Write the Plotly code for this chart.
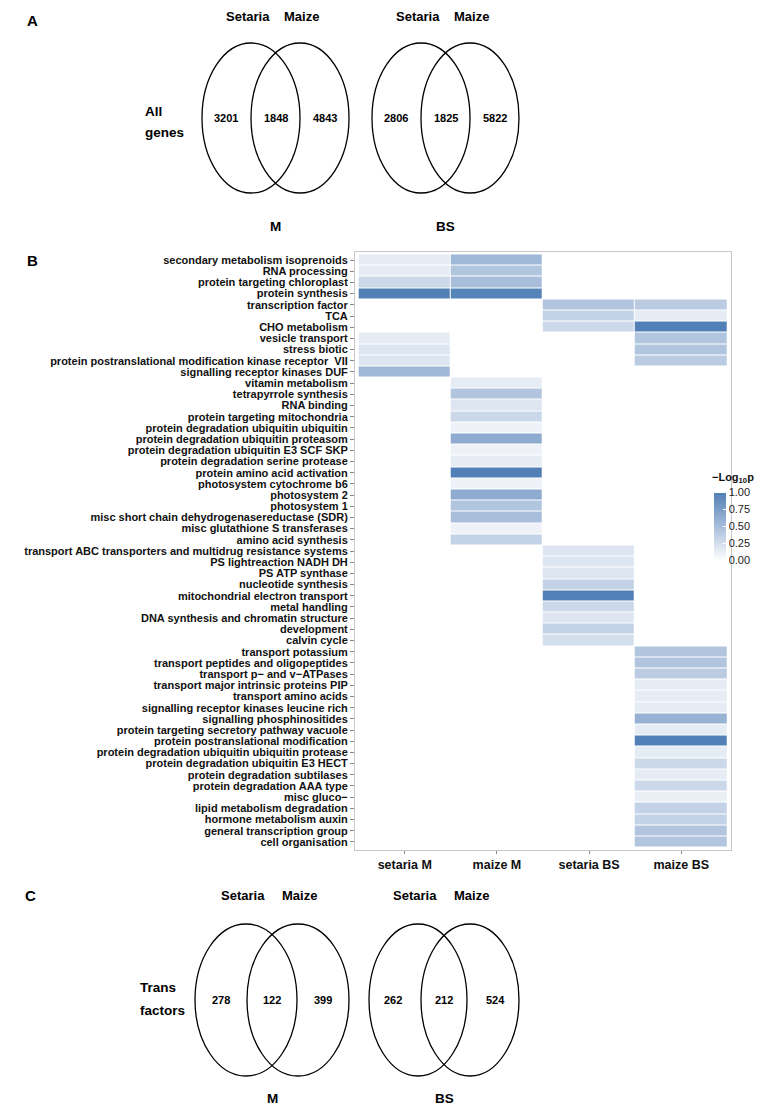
import plotly.graph_objects as go

W, H = 780, 1106
N = None

# ---------------- data ----------------
columns = ["setaria M", "maize M", "setaria BS", "maize BS"]

categories = [
    "secondary metabolism isoprenoids",
    "RNA processing",
    "protein targeting chloroplast",
    "protein synthesis",
    "transcription factor",
    "TCA",
    "CHO metabolism",
    "vesicle transport",
    "stress biotic",
    "protein postranslational modification kinase receptor\u00a0\u00a0VII",
    "signalling receptor kinases DUF",
    "vitamin metabolism",
    "tetrapyrrole synthesis",
    "RNA binding",
    "protein targeting mitochondria",
    "protein degradation ubiquitin ubiquitin",
    "protein degradation ubiquitin proteasom",
    "protein degradation ubiquitin E3 SCF SKP",
    "protein degradation serine protease",
    "protein amino acid activation",
    "photosystem cytochrome b6",
    "photosystem 2",
    "photosystem 1",
    "misc short chain dehydrogenasereductase (SDR)",
    "misc glutathione S transferases",
    "amino acid synthesis",
    "transport ABC transporters and multidrug resistance systems",
    "PS lightreaction NADH DH",
    "PS ATP synthase",
    "nucleotide synthesis",
    "mitochondrial electron transport",
    "metal handling",
    "DNA synthesis and chromatin structure",
    "development",
    "calvin cycle",
    "transport potassium",
    "transport peptides and oligopeptides",
    "transport p\u2212 and v\u2212ATPases",
    "transport major intrinsic proteins PIP",
    "transport amino acids",
    "signalling receptor kinases leucine rich",
    "signalling phosphinositides",
    "protein targeting secretory pathway vacuole",
    "protein postranslational modification",
    "protein degradation ubiquitin ubiquitin protease",
    "protein degradation ubiquitin E3 HECT",
    "protein degradation subtilases",
    "protein degradation AAA type",
    "misc gluco\u2212",
    "lipid metabolism degradation",
    "hormone metabolism auxin",
    "general transcription group",
    "cell organisation",
]

setaria_M = [0.15, 0.15, 0.30, 1.00, N, N, N, 0.15, 0.20, 0.20, 0.55,
             N, N, N, N, N, N, N, N, N, N, N, N, N, N, N,
             N, N, N, N, N, N, N, N, N,
             N, N, N, N, N, N, N, N, N, N, N, N, N, N, N, N, N, N]
maize_M = [0.55, 0.45, 0.50, 0.97, N, N, N, N, N, N, N,
           0.15, 0.45, 0.20, 0.30, 0.10, 0.65, 0.10, 0.15, 1.00, 0.10, 0.65, 0.45, 0.50, 0.10, 0.35,
           N, N, N, N, N, N, N, N, N,
           N, N, N, N, N, N, N, N, N, N, N, N, N, N, N, N, N, N]
setaria_BS = [N, N, N, N, 0.45, 0.35, 0.30, N, N, N, N,
              N, N, N, N, N, N, N, N, N, N, N, N, N, N, N,
              0.20, 0.20, 0.20, 0.35, 1.00, 0.30, 0.20, 0.35, 0.25,
              N, N, N, N, N, N, N, N, N, N, N, N, N, N, N, N, N, N]
maize_BS = [N, N, N, N, 0.40, 0.15, 1.00, 0.45, 0.45, 0.40, N,
            N, N, N, N, N, N, N, N, N, N, N, N, N, N, N,
            N, N, N, N, N, N, N, N, N,
            0.45, 0.45, 0.40, 0.15, 0.15, 0.15, 0.60, 0.15, 1.00, 0.15, 0.30, 0.15, 0.30, 0.12,
            0.35, 0.35, 0.45, 0.45]

colorbar_ticks = [0.00, 0.25, 0.50, 0.75, 1.00]
colorbar_title = "\u2212Log<sub>10</sub>p"

venn_sets = ["Setaria", "Maize"]
venn_groups = ["M", "BS"]
all_genes_M = [3201, 1848, 4843]
all_genes_BS = [2806, 1825, 5822]
trans_factors_M = [278, 122, 399]
trans_factors_BS = [262, 212, 524]

FONT = "Liberation Sans Narrow, Arial Narrow, Liberation Sans, Arial, sans-serif"

# ---------------- heatmap ----------------
z = [[setaria_M[i], maize_M[i], setaria_BS[i], maize_BS[i]] for i in range(len(categories))]

fig = go.Figure()
fig.add_trace(go.Heatmap(
    z=z,
    x=columns,
    y=categories,
    zmin=0, zmax=1,
    xgap=1, ygap=1,
    colorscale=[[0, "#ffffff"], [0.5, "#a9bedb"], [1, "#5280b6"]],
    hoverongaps=False,
    colorbar=dict(
        x=706 / W, xanchor="left",
        y=1 - 518.5 / H, yanchor="middle",
        lenmode="pixels", len=68,
        thickness=12,
        outlinewidth=0,
        tickvals=colorbar_ticks,
        ticktext=["%.2f" % t for t in colorbar_ticks],
        ticks="inside", tickcolor="white", ticklen=3,
        tickfont=dict(size=11, family="Liberation Sans, Arial", color="#222"),
        xpad=0, ypad=0,
    ),
))

fig.update_xaxes(
    domain=[347 / W, 723 / W],
    range=[-0.54, 3.54],
    showline=True, mirror=True, linecolor="#c8c8c8", linewidth=1,
    ticks="outside", ticklen=3, tickcolor="#888",
    tickfont=dict(size=12.5, family=FONT, color="#111"),
    showgrid=False, zeroline=False, fixedrange=True,
    tickmode="array", tickvals=columns,
    ticktext=["<b>%s</b>" % c for c in columns],
)
fig.update_yaxes(
    domain=[1 - 842 / H, 1 - 244 / H],
    range=[len(categories) - 1 + 0.72, -0.72],
    showline=True, mirror=True, linecolor="#c8c8c8", linewidth=1,
    ticks="outside", ticklen=4, tickcolor="#888",
    tickfont=dict(size=11, family=FONT, color="#111"),
    showgrid=False, zeroline=False, fixedrange=True,
    tickmode="array", tickvals=categories,
    ticktext=["<b>%s</b>" % c for c in categories],
)

# ---------------- venn diagrams (paper coords, pixel helpers) ----------------
def px(x):
    return x / W

def py(y):
    return 1 - y / H

shapes = []
annotations = []

def ellipse(cx, cy, rx, ry):
    shapes.append(dict(type="circle", xref="paper", yref="paper",
                       x0=px(cx - rx), x1=px(cx + rx), y0=py(cy + ry), y1=py(cy - ry),
                       line=dict(color="black", width=1.3), fillcolor="rgba(0,0,0,0)"))

def text(x, y, s, size, xanchor="center"):
    annotations.append(dict(x=px(x), y=py(y), xref="paper", yref="paper", text="<b>%s</b>" % s,
                            showarrow=False, xanchor=xanchor, yanchor="middle",
                            font=dict(size=size, family=FONT, color="black")))

def venn(cx_left, cx_right, cy, rx, ry, counts, set_y, group_y, group):
    ellipse(cx_left, cy, rx, ry)
    ellipse(cx_right, cy, rx, ry)
    mid = (cx_left + cx_right) / 2
    text(cx_left - 25, cy, counts[0], 11)
    text(mid, cy, counts[1], 11)
    text(cx_right + 25, cy, counts[2], 11)
    text(cx_left - 3, set_y, venn_sets[0], 13)
    text(cx_right + 1, set_y, venn_sets[1], 13)
    text(mid, group_y, group, 13.5)

# colorbar title as its own text above the bar
annotations.append(dict(x=px(702), y=py(470), xref="paper", yref="paper",
                        text="<b>%s</b>" % colorbar_title, showarrow=False,
                        xanchor="left", yanchor="middle",
                        font=dict(size=11, family=FONT, color="#111")))

# Panel A
text(24, 12, "A", 15)
text(135, 103, "All", 13.5, "left")
text(135, 124, "genes", 13.5, "left")
venn(243, 292, 110, 49, 75, all_genes_M, 9, 218, venn_groups[0])
venn(413, 462, 110, 49, 75, all_genes_BS, 9, 218, venn_groups[1])

# Panel B label
text(24, 252, "B", 15)

# Panel C
text(22, 887, "C", 15)
text(130, 979, "Trans", 13.5, "left")
text(130, 1002, "factors", 13.5, "left")
venn(238, 290, 992, 51, 76, trans_factors_M, 887, 1090, venn_groups[0])
venn(410, 462, 992, 49, 76, trans_factors_BS, 887, 1090, venn_groups[1])

fig.update_layout(
    width=W, height=H,
    margin=dict(l=0, r=0, t=0, b=0),
    paper_bgcolor="white", plot_bgcolor="white",
    shapes=shapes,
    annotations=annotations,
    showlegend=False,
)

fig.write_html("out.html")
